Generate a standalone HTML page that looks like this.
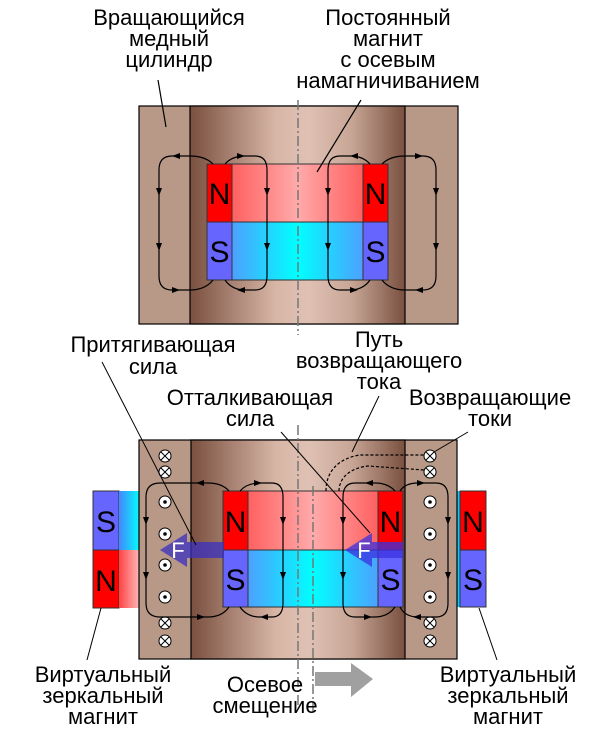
<!DOCTYPE html>
<html><head><meta charset="utf-8"><style>
html,body{margin:0;padding:0;background:#fff}
svg{display:block}
text{font-family:"Liberation Sans",sans-serif;font-size:22px;fill:#000}
.m{font-size:30px}
</style></head><body>
<svg width="600" height="729" viewBox="0 0 600 729" xmlns="http://www.w3.org/2000/svg">
<defs>
<linearGradient id="cyl" x1="0" x2="1" y1="0" y2="0">
<stop offset="0" stop-color="#7a5040"/><stop offset="0.4" stop-color="#d8b6a6"/><stop offset="0.55" stop-color="#dfc1b4"/><stop offset="0.75" stop-color="#c8a696"/><stop offset="1" stop-color="#7a5040"/>
</linearGradient>
<linearGradient id="red" x1="0" x2="1"><stop offset="0" stop-color="#ff4444"/><stop offset="0.5" stop-color="#ffaaaa"/><stop offset="1" stop-color="#ff4444"/></linearGradient>
<linearGradient id="blu" x1="0" x2="1"><stop offset="0" stop-color="#6a7cff"/><stop offset="0.5" stop-color="#00ffff"/><stop offset="1" stop-color="#6a7cff"/></linearGradient>
<linearGradient id="cyr" x1="0" x2="1"><stop offset="0" stop-color="#4488ff"/><stop offset="1" stop-color="#00ffff"/></linearGradient>
<linearGradient id="rr" x1="0" x2="1"><stop offset="0" stop-color="#ff4444"/><stop offset="1" stop-color="#ffbbbb"/></linearGradient>
<g id="dot"><circle r="6" fill="#fff" stroke="#000"/><circle r="1.8" fill="#000"/></g>
<g id="crs"><circle r="6" fill="#fff" stroke="#000"/><path d="M-4,-4L4,4M-4,4L4,-4" stroke="#000" stroke-width="1"/></g>
<path id="ad" d="M-3,-5L3,-5L0,3Z"/>
</defs>

<!-- TOP -->
<text x="169" y="25" text-anchor="middle">Вращающийся</text>
<text x="169" y="46" text-anchor="middle">медный</text>
<text x="169" y="67" text-anchor="middle">цилиндр</text>
<text x="388" y="25" text-anchor="middle">Постоянный</text>
<text x="388" y="46" text-anchor="middle">магнит</text>
<text x="388" y="67" text-anchor="middle">с осевым</text>
<text x="388" y="88" text-anchor="middle">намагничиванием</text>

<rect x="139" y="106" width="319" height="218" fill="#b89886" stroke="#000" stroke-width="1.2"/>
<rect x="190" y="106" width="215" height="218" fill="url(#cyl)" stroke="#000" stroke-width="1.2"/>
<rect x="207" y="164" width="181" height="58" fill="url(#red)" stroke="#333"/>
<rect x="207" y="222" width="181" height="58" fill="url(#blu)" stroke="#333"/>
<rect x="207" y="164" width="25" height="58" fill="#ff0000" stroke="#333"/>
<rect x="363" y="164" width="25" height="58" fill="#ff0000" stroke="#333"/>
<rect x="207" y="222" width="25" height="58" fill="#6666ff" stroke="#333"/>
<rect x="363" y="222" width="25" height="58" fill="#6666ff" stroke="#333"/>
<text class="m" x="219.5" y="204" text-anchor="middle">N</text>
<text class="m" x="375.5" y="204" text-anchor="middle">N</text>
<text class="m" x="219.5" y="262" text-anchor="middle">S</text>
<text class="m" x="375.5" y="262" text-anchor="middle">S</text>
<line x1="298" y1="100" x2="298" y2="335" stroke="#777" stroke-width="1.5" stroke-dasharray="10,3,2,3"/>
<g fill="none" stroke="#000" stroke-width="1.2">
<path d="M213,164 Q205,156 190,156 L172,156 Q159,156 159,170 L159,276 Q159,290 172,290 L190,290 Q205,290 213,280"/>
<path d="M225,164 Q232,156 245,156 L255,156 Q267,156 267,170 V276 Q267,290 255,290 H245 Q232,290 225,280"/>
<path d="M382,164 Q390,156 405,156 L423,156 Q436,156 436,170 L436,276 Q436,290 423,290 L405,290 Q390,290 382,280"/>
<path d="M370,164 Q363,156 350,156 L340,156 Q328,156 328,170 V276 Q328,290 340,290 H350 Q363,290 370,280"/>
<line x1="158" y1="80" x2="166" y2="127"/>
<line x1="361" y1="100" x2="317" y2="172"/>
</g>
<g fill="#000">
<use href="#ad" x="159" y="193"/><use href="#ad" x="159" y="248"/>
<use href="#ad" x="267" y="193"/><use href="#ad" x="267" y="248"/>
<use href="#ad" x="328" y="193"/><use href="#ad" x="328" y="248"/>
<use href="#ad" x="436" y="193"/><use href="#ad" x="436" y="248"/>
<path d="M172,156l8,-3v6z"/><path d="M245,156l-8,-3v6z"/><path d="M350,156l8,-3v6z"/><path d="M423,156l-8,-3v6z"/>
<path d="M180,290l-8,-3v6z"/><path d="M237,290l8,-3v6z"/><path d="M358,290l-8,-3v6z"/><path d="M415,290l8,-3v6z"/>
</g>

<!-- LABELS middle -->
<text x="153" y="352" text-anchor="middle">Притягивающая</text>
<text x="153" y="374" text-anchor="middle">сила</text>
<text x="379" y="347" text-anchor="middle">Путь</text>
<text x="379" y="368" text-anchor="middle">возвращающего</text>
<text x="379" y="389" text-anchor="middle">тока</text>
<text x="250" y="405" text-anchor="middle">Отталкивающая</text>
<text x="250" y="426" text-anchor="middle">сила</text>
<text x="490" y="405" text-anchor="middle">Возвращающие</text>
<text x="490" y="426" text-anchor="middle">токи</text>

<!-- BOTTOM -->
<rect x="93" y="491" width="26" height="59" fill="#6666ff" stroke="#333"/>
<rect x="93" y="550" width="26" height="58" fill="#ff0000" stroke="#333"/>
<rect x="119" y="491" width="21" height="59" fill="url(#cyr)"/>
<rect x="119" y="550" width="21" height="58" fill="url(#rr)"/>
<text class="m" x="106" y="532" text-anchor="middle">S</text>
<text class="m" x="106" y="591" text-anchor="middle">N</text>
<rect x="457" y="491" width="4" height="116" fill="#00ccff"/>
<rect x="460" y="491" width="26" height="59" fill="#ff0000" stroke="#333"/>
<rect x="460" y="550" width="26" height="57" fill="#6666ff" stroke="#333"/>
<text class="m" x="473" y="532" text-anchor="middle">N</text>
<text class="m" x="473" y="590" text-anchor="middle">S</text>

<rect x="139" y="440" width="318" height="219" fill="#b89886" stroke="#000" stroke-width="1.2"/>
<rect x="191" y="440" width="214" height="219" fill="url(#cyl)" stroke="#000" stroke-width="1.2"/>
<rect x="223" y="491" width="180" height="59" fill="url(#red)" stroke="#333"/>
<rect x="223" y="550" width="180" height="57" fill="url(#blu)" stroke="#333"/>
<rect x="223" y="491" width="25" height="59" fill="#ff0000" stroke="#333"/>
<rect x="378" y="491" width="25" height="59" fill="#ff0000" stroke="#333"/>
<rect x="223" y="550" width="25" height="57" fill="#6666ff" stroke="#333"/>
<rect x="378" y="550" width="25" height="57" fill="#6666ff" stroke="#333"/>
<text class="m" x="235.5" y="532" text-anchor="middle">N</text>
<text class="m" x="390.5" y="532" text-anchor="middle">N</text>
<text class="m" x="235.5" y="590" text-anchor="middle">S</text>
<text class="m" x="390.5" y="590" text-anchor="middle">S</text>
<line x1="298" y1="425" x2="298" y2="706" stroke="#777" stroke-width="1.5" stroke-dasharray="10,3,2,3"/>
<line x1="313" y1="486" x2="313" y2="712" stroke="#777" stroke-width="1.5" stroke-dasharray="10,3,2,3"/>

<g fill="#000">
<use href="#crs" x="165" y="456"/><use href="#crs" x="165" y="472"/><use href="#crs" x="165" y="623"/><use href="#crs" x="165" y="641"/>
<use href="#dot" x="165" y="502"/><use href="#dot" x="165" y="534"/><use href="#dot" x="165" y="565"/><use href="#dot" x="165" y="597"/>
<use href="#crs" x="430" y="456"/><use href="#crs" x="430" y="472"/><use href="#crs" x="430" y="623"/><use href="#crs" x="430" y="641"/>
<use href="#dot" x="430" y="502"/><use href="#dot" x="430" y="534"/><use href="#dot" x="430" y="565"/><use href="#dot" x="430" y="597"/>
</g>

<g fill="none" stroke="#000" stroke-width="1.2">
<path d="M229,491 Q222,483 208,483 H160 Q146,483 146,497 V603 Q146,617 160,617 H208 Q222,617 229,607"/>
<path d="M240,491 Q247,483 260,483 H272 Q283,483 283,497 V603 Q283,617 272,617 H260 Q247,617 240,607"/>
<path d="M395,491 Q388,483 375,483 H355 Q343,483 343,497 V603 Q343,617 355,617 H375 Q388,617 395,607"/>
<path d="M400,491 Q405,483 418,483 H436 Q448,483 448,497 V603 Q448,617 436,617 H418 Q405,617 400,607"/>
</g>
<g fill="#000">
<use href="#ad" x="146" y="522"/><use href="#ad" x="146" y="577"/>
<use href="#ad" x="283" y="522"/><use href="#ad" x="283" y="577"/>
<use href="#ad" x="343" y="522"/><use href="#ad" x="343" y="577"/>
<use href="#ad" x="448" y="522"/><use href="#ad" x="448" y="577"/>
<path d="M196,483l8,-3v6z"/><path d="M262,483l-8,-3v6z"/><path d="M365,483l8,-3v6z"/><path d="M425,483l-8,-3v6z"/>
<path d="M205,617l-8,-3v6z"/><path d="M260,617l8,-3v6z"/><path d="M372,617l-8,-3v6z"/><path d="M413,617l8,-3v6z"/>
</g>

<!-- force arrows -->
<path d="M224,542 H187 V533 L160,550 L187,567 V558 H224 Z" fill="#3a30c0" fill-opacity="0.75"/>
<text x="178" y="558" text-anchor="middle" font-size="20" style="fill:#fff">F</text>
<path d="M403,542 H372 V533 L345,550 L372,567 V558 H403 Z" fill="#3a30e0" fill-opacity="0.75"/>
<text x="364" y="558" text-anchor="middle" font-size="20" style="fill:#fff">F</text>

<!-- dashed return path -->
<g fill="none" stroke="#000" stroke-width="1.2" stroke-dasharray="3,2">
<path d="M326,491 C326,470 340,458 360,455 L424,455"/>
<path d="M339,491 C339,478 350,468 368,466 L424,470"/>
</g>

<!-- leaders -->
<g stroke="#000" stroke-width="1" fill="none">
<line x1="102" y1="362" x2="196" y2="545"/>
<line x1="281" y1="432" x2="370" y2="533"/>
<line x1="379" y1="396" x2="352" y2="452"/>
<line x1="468" y1="432" x2="434" y2="452"/>
<line x1="101" y1="608" x2="87" y2="660"/>
<line x1="479" y1="608" x2="497" y2="660"/>
</g>

<!-- axial displacement arrow -->
<path d="M315,672 H351 V663 L373,679 L351,697 V686 H315 Z" fill="#a0a0a0"/>

<text x="103" y="682" text-anchor="middle">Виртуальный</text>
<text x="103" y="703" text-anchor="middle">зеркальный</text>
<text x="103" y="724" text-anchor="middle">магнит</text>
<text x="508" y="682" text-anchor="middle">Виртуальный</text>
<text x="508" y="703" text-anchor="middle">зеркальный</text>
<text x="508" y="724" text-anchor="middle">магнит</text>
<text x="265" y="692" text-anchor="middle">Осевое</text>
<text x="265" y="713" text-anchor="middle">смещение</text>
</svg>
</body></html>
